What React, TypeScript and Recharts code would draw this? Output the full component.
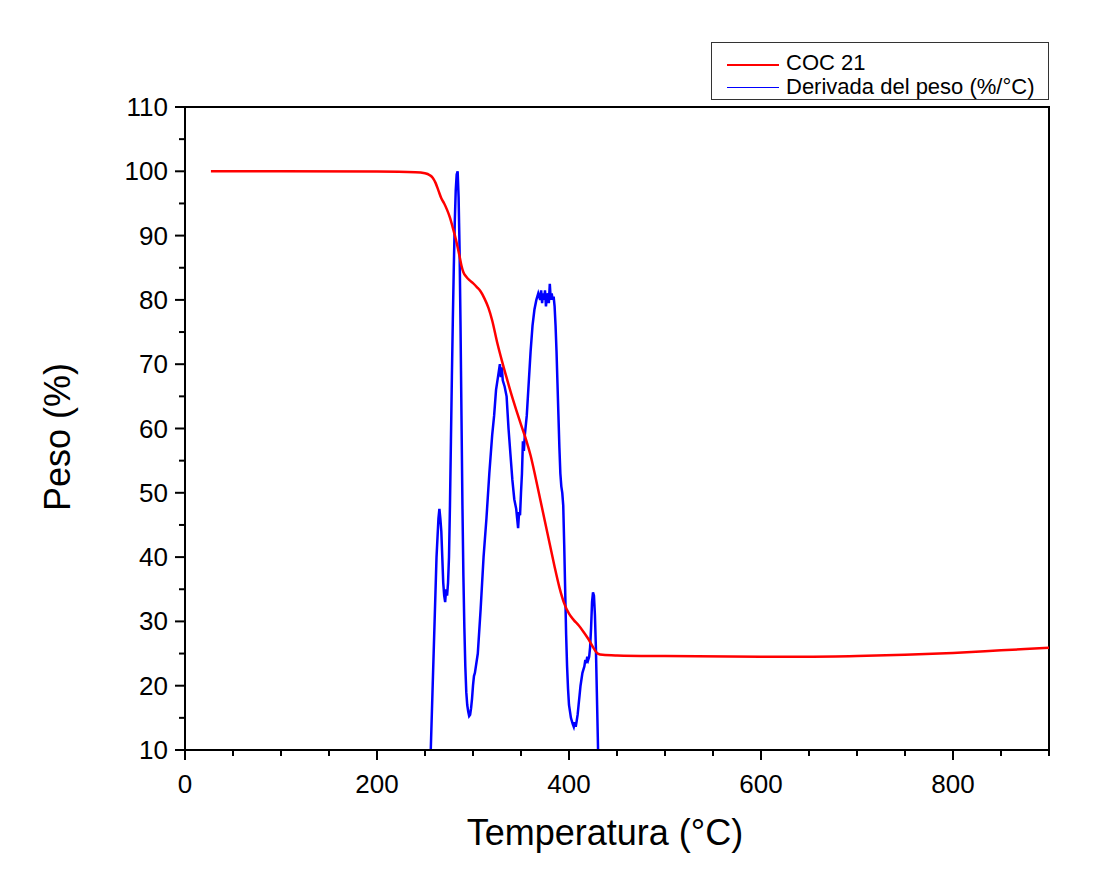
import React from "react";
import { LineChart, Line, XAxis, YAxis, ReferenceArea, Legend } from "recharts";

// TGA weight curve (COC 21)
const tgaTemp = [27, 100, 200, 240, 250, 255, 258, 261, 264, 267, 270, 273, 276, 279, 282, 284, 286, 288, 290, 293, 296, 300, 304, 308, 312, 316, 320, 325, 330, 335, 340, 345, 350, 355, 360, 365, 370, 375, 380, 385, 390, 395, 400, 405, 410, 415, 420, 425, 430, 435, 450, 500, 600, 650, 700, 750, 800, 850, 900];
const tgaWeight = [100, 100, 99.95, 99.85, 99.7, 99.4, 99.0, 98.2, 97.0, 95.8, 95.0, 94.0, 92.8, 91.2, 89.5, 88.2, 86.8, 85.3, 84.3, 83.6, 83.1, 82.6, 82.0, 81.3, 80.2, 78.8, 76.8, 73.5, 70.6, 67.9, 65.3, 62.9, 60.6, 58.4, 55.8, 52.5, 49.0, 45.5, 42.0, 38.5, 35.3, 32.8, 31.2, 30.2, 29.4, 28.4, 27.3, 26.0, 25.0, 24.8, 24.7, 24.6, 24.5, 24.5, 24.6, 24.8, 25.1, 25.5, 25.9];

// Derivative of weight (%/°C), plotted on same scale
const dtgTemp = [254, 256, 258, 260, 262, 264, 265, 266, 267, 268, 269, 270, 271, 272, 273, 274, 275, 276, 277, 278, 279, 280, 281, 282, 283, 284, 285, 286, 287, 288, 289, 290, 291, 292, 293, 294, 295, 296, 297, 298, 299, 300, 301, 302, 305, 308, 311, 314, 317, 320, 322, 324, 326, 327, 328, 329, 330, 331, 333, 335, 337, 339, 341, 343, 345, 346, 347, 348, 349, 350, 351, 352, 353, 354, 356, 358, 360, 362, 364, 366, 368, 370, 371, 372, 373, 374, 375, 376, 377, 378, 379, 380, 381, 382, 383, 384, 385, 386, 387, 388, 389, 390, 391, 392, 393, 394, 395, 396, 397, 398, 399, 400, 401, 402, 403, 404, 405, 406, 407, 408, 409, 410, 411, 412, 413, 414, 415, 416, 417, 418, 419, 420, 421, 422, 423, 424, 425, 426, 427, 428, 429, 430, 431];
const dtgValue = [5, 10, 20, 30, 40, 46, 47.5, 46, 44, 40, 36, 34, 33, 35, 34, 36, 40, 48, 58, 68, 77, 85, 92, 97, 99.5, 100, 96, 88, 76, 62, 48, 37, 29, 23, 19, 17, 16, 15.3, 15.5, 16.5, 18, 20, 21.5, 22, 25, 32, 40, 46, 53, 59, 62, 66, 68, 69, 70, 68, 69.5, 67.5, 66.5, 65, 60, 56, 52, 49, 47.5, 46, 44.5, 47, 46.5, 50, 53, 58, 56.5, 59, 62, 67, 72, 76, 78.5, 80, 81, 80, 81.5, 79.5, 81, 80, 81.5, 79, 80.5, 81, 79.5, 82.5, 80, 81, 80, 80.5, 79, 76, 72, 67, 62, 57, 53, 51, 50, 48, 42, 35, 28, 23, 19.5, 17, 16, 15, 14.5, 14, 13.6, 14.3, 13.6, 14.5, 15.5, 17, 18.5, 20, 21, 22, 22.5, 23, 24, 23.5, 24.5, 24, 24.5, 26, 29, 33, 34.5, 34, 31, 26, 19, 12, 5];

const xTicks = [0, 50, 100, 150, 200, 250, 300, 350, 400, 450, 500, 550, 600, 650, 700, 750, 800, 850, 900];
const yTicks = [10, 15, 20, 25, 30, 35, 40, 45, 50, 55, 60, 65, 70, 75, 80, 85, 90, 95, 100, 105, 110];

const seriesNames = ["COC 21", "Derivada del peso (%/°C)"];
const xTitle = "Temperatura (°C)";
const yTitle = "Peso (%)";

const tgaData = tgaTemp.map((t, i) => ({ t, v: tgaWeight[i] }));
const dtgData = dtgTemp.map((t, i) => ({ t, v: dtgValue[i] }));

const FONT = "'Liberation Sans', Arial, sans-serif";

const XTick = (props: any) => {
  const { x, y, payload } = props;
  const v = payload.value;
  const major = v % 200 === 0;
  return (
    <g>
      <line x1={x} x2={x} y1={y} y2={y + (major ? 10 : 6)} stroke="#000" strokeWidth={2} />
      {major && (
        <text x={x} y={y + 43} textAnchor="middle" fontSize={26} fontFamily={FONT} fill="#000">
          {v}
        </text>
      )}
    </g>
  );
};

const YTick = (props: any) => {
  const { x, y, payload } = props;
  const v = payload.value;
  const major = v % 10 === 0;
  return (
    <g>
      <line x1={x - (major ? 10 : 6)} x2={x} y1={y} y2={y} stroke="#000" strokeWidth={2} />
      {major && (
        <text x={x - 17} y={y + 9} textAnchor="end" fontSize={26} fontFamily={FONT} fill="#000">
          {v}
        </text>
      )}
    </g>
  );
};

const LegendBox = () => (
  <div
    style={{
      width: 336,
      height: 56,
      border: "1px solid #333",
      background: "#fff",
      fontFamily: FONT,
      fontSize: 22,
      color: "#000",
      position: "relative",
    }}
  >
    <div style={{ position: "absolute", left: 15, top: 21, width: 52, height: 2, background: "#FF0000" }} />
    <div style={{ position: "absolute", left: 74, top: 7, lineHeight: "26px", whiteSpace: "nowrap" }}>{seriesNames[0]}</div>
    <div style={{ position: "absolute", left: 15, top: 44, width: 52, height: 1, background: "#0000FF" }} />
    <div style={{ position: "absolute", left: 74, top: 31, lineHeight: "26px", whiteSpace: "nowrap" }}>{seriesNames[1]}</div>
  </div>
);

export default function App() {
  return (
    <div style={{ width: 1105, height: 882, background: "#fff" }}>
      <LineChart width={1105} height={882} margin={{ top: 99, right: 64, bottom: 40, left: 77 }}>
        <XAxis
          dataKey="t"
          type="number"
          domain={[0, 900]}
          ticks={xTicks}
          interval={0}
          allowDataOverflow
          tickSize={0}
          tickMargin={0}
          tick={<XTick />}
          axisLine={{ stroke: "#000", strokeWidth: 2 }}
          height={100}
          label={{
            value: xTitle,
            position: "insideBottom",
            content: (p: any) => (
              <text x={597} y={837} textAnchor="middle" fontSize={36} fontFamily={FONT} fill="#000">
                {xTitle}
              </text>
            ),
          }}
        />
        <YAxis
          type="number"
          domain={[10, 110]}
          ticks={yTicks}
          interval={0}
          allowDataOverflow
          tickSize={0}
          tickMargin={0}
          tick={<YTick />}
          axisLine={{ stroke: "#000", strokeWidth: 2 }}
          width={100}
          label={{
            value: yTitle,
            position: "insideLeft",
            content: (p: any) => (
              <text
                x={62}
                y={429}
                transform="rotate(-90, 62, 429)"
                textAnchor="middle"
                fontSize={36}
                fontFamily={FONT}
                fill="#000"
              >
                {yTitle}
              </text>
            ),
          }}
        />
        <ReferenceArea x1={0} x2={900} y1={10} y2={110} fill="none" stroke="#000" strokeWidth={2} ifOverflow="visible" />
        <Line
          data={dtgData}
          dataKey="v"
          name={seriesNames[1]}
          type="linear"
          stroke="#0000FF"
          strokeWidth={2.5}
          dot={false}
          activeDot={false}
          isAnimationActive={false}
        />
        <Line
          data={tgaData}
          dataKey="v"
          name={seriesNames[0]}
          type="monotone"
          stroke="#FF0000"
          strokeWidth={2.5}
          dot={false}
          activeDot={false}
          isAnimationActive={false}
        />
        <Legend
          layout="vertical"
          align="center"
          verticalAlign="middle"
          content={() => <LegendBox />}
          wrapperStyle={{ top: 34, left: 703, width: 338, height: 58 }}
        />
      </LineChart>
    </div>
  );
}
